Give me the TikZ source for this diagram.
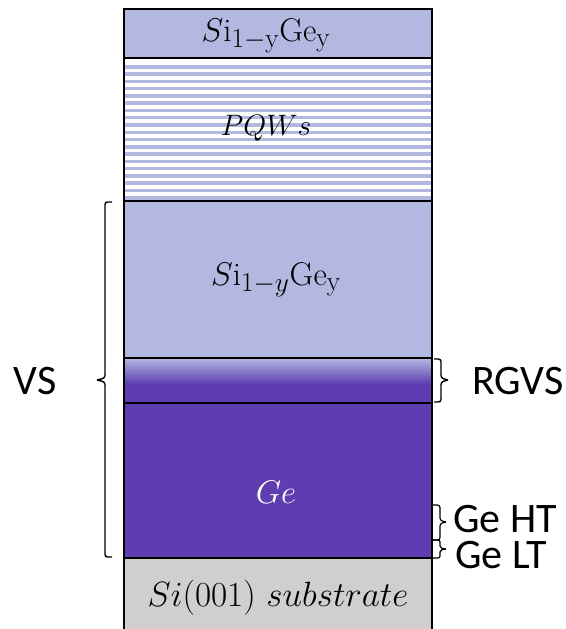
\documentclass[tikz,border=0pt]{standalone}
\usepackage{fontspec}
\newfontfamily\labelfont{Carlito}
\definecolor{lav}{HTML}{B3B8E1}
\definecolor{purp}{HTML}{5F3DB0}
\definecolor{subgrey}{HTML}{D0CECE}
\begin{document}
\begin{tikzpicture}[x=1pt,y=-1pt,
  layer/.style={draw=black,line width=1.5pt},
  laytext/.style={font=\fontsize{24.88}{30}\selectfont,inner sep=0pt,scale=1.32},
  sidelabel/.style={font=\labelfont\fontsize{42}{48}\selectfont,inner sep=0pt},
  smalllabel/.style={font=\labelfont\fontsize{42}{48}\selectfont,inner sep=0pt,anchor=west,text height=27pt,text depth=2pt},
  bracket/.style={draw=black,line width=1.4pt,rounded corners=2.5pt}]
\useasboundingbox (0,0) rectangle (565,629);
% layers
\fill[lav] (124,9) rectangle (432,58);
\fill[white] (124,58) rectangle (432,201);
\foreach \i in {0,...,18}{
  \fill[lav] (124,{65+\i*7.28}) rectangle (432,{68.5+\i*7.28});
}
\fill[lav] (124,201) rectangle (432,358);
\shade[top color=lav,bottom color=purp] (124,358) rectangle (432,384);
\fill[purp] (124,384) rectangle (432,558);
\fill[subgrey] (124,558) rectangle (432,629);
\draw[layer] (124,629) -- (124,9) -- (432,9) -- (432,629);
\foreach \yy in {58,201,358,403,558}{
  \draw[layer] (124,\yy) -- (432,\yy);
}
% layer texts
\node[laytext] (top) at (266,36) {$S\mathrm{i}_{1-\mathrm{y}}\mathrm{Ge}_{\mathrm{y}}$};
\node[laytext,scale=0.9] (pqw) at (266,128) {$PQWs$};
\node[laytext] (sige) at (276,280) {$S\mathrm{i}_{1-y}\mathrm{Ge}_{\mathrm{y}}$};
\node[laytext,text=white] (ge) at (276,492) {$Ge$};
\node[laytext,scale=1.07] (sub) at (278,598) {$Si(001)\ substrate$};
% VS brace
\coordinate (vsT) at (112,202);
\coordinate (vsB) at (112,557);
\coordinate (vsTip) at (97,380);
\draw[bracket] (vsT) -- (105,202) -- (105,378) -- (vsTip);
\draw[bracket] (vsB) -- (105,557) -- (105,382) -- (vsTip);
\node[sidelabel] (vs) at (35,381) {VS};
% RGVS brace
\coordinate (rgT) at (434,359);
\coordinate (rgB) at (434,402);
\coordinate (rgTip) at (448,380);
\draw[bracket] (rgT) -- (441,359) -- (441,378) -- (rgTip);
\draw[bracket] (rgB) -- (441,402) -- (441,382) -- (rgTip);
\node[sidelabel] (rgvs) at (518,381) {RGVS};
% Ge HT brace
\coordinate (htT) at (433,505);
\coordinate (htB) at (433,540);
\coordinate (htTip) at (446,522);
\draw[bracket,line width=1.2pt] (htT) -- (440,505) -- (440,520.5) -- (htTip);
\draw[bracket,line width=1.2pt] (htB) -- (440,540) -- (440,523.5) -- (htTip);
\node[smalllabel] (ght) at (453,519.5) {Ge HT};
% Ge LT brace
\coordinate (ltT) at (433,540);
\coordinate (ltB) at (433,558);
\coordinate (ltTip) at (446,549);
\draw[bracket,line width=1.2pt,rounded corners=2pt] (ltT) -- (440,540) -- (440,548) -- (ltTip);
\draw[bracket,line width=1.2pt,rounded corners=2pt] (ltB) -- (440,558) -- (440,550) -- (ltTip);
\node[smalllabel] (glt) at (455,555.5) {Ge LT};
\end{tikzpicture}
\end{document}
